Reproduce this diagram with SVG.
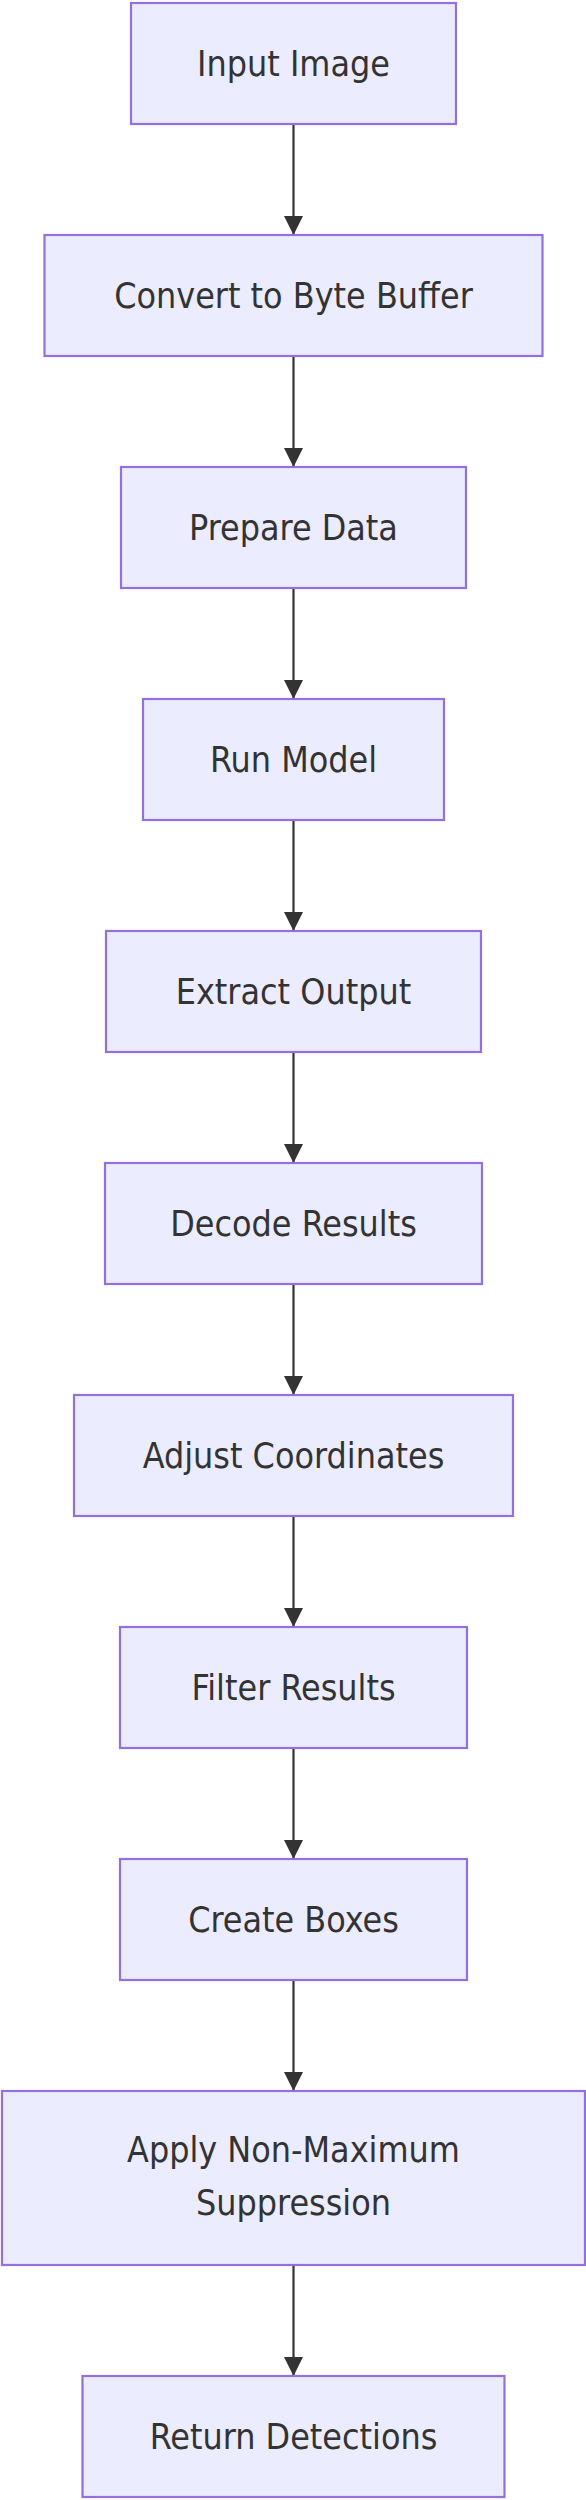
<svg xmlns="http://www.w3.org/2000/svg" width="586" height="2500" viewBox="0 0 586 2500">
<style>
.node rect{fill:#ECECFF;stroke:#9370DB;stroke-width:2.2}
.node text{font-family:"DejaVu Sans Condensed","Liberation Sans",sans-serif;font-size:35.5px;fill:#333333;text-anchor:middle}
.edge{stroke:#333333;stroke-width:2.2;fill:none}
</style>
<defs>
<marker id="arrow" viewBox="0 0 10 10" refX="10" refY="5" markerUnits="userSpaceOnUse" markerWidth="19" markerHeight="19" orient="auto">
<path d="M0,0 L10,5 L0,10 z" fill="#333333"/>
</marker>
</defs>
<rect width="586" height="2500" fill="#ffffff"/>
<g id="connectors">
<line class="edge" x1="293.5" y1="124" x2="293.5" y2="235" marker-end="url(#arrow)"/>
<line class="edge" x1="293.5" y1="356" x2="293.5" y2="467" marker-end="url(#arrow)"/>
<line class="edge" x1="293.5" y1="588" x2="293.5" y2="699" marker-end="url(#arrow)"/>
<line class="edge" x1="293.5" y1="820" x2="293.5" y2="931" marker-end="url(#arrow)"/>
<line class="edge" x1="293.5" y1="1052" x2="293.5" y2="1163" marker-end="url(#arrow)"/>
<line class="edge" x1="293.5" y1="1284" x2="293.5" y2="1395" marker-end="url(#arrow)"/>
<line class="edge" x1="293.5" y1="1516" x2="293.5" y2="1627" marker-end="url(#arrow)"/>
<line class="edge" x1="293.5" y1="1748" x2="293.5" y2="1859" marker-end="url(#arrow)"/>
<line class="edge" x1="293.5" y1="1980" x2="293.5" y2="2091" marker-end="url(#arrow)"/>
<line class="edge" x1="293.5" y1="2265" x2="293.5" y2="2376" marker-end="url(#arrow)"/>
</g>
<g id="input" class="node"><rect x="131" y="3" width="325" height="121"/><text x="293.5" y="76">Input Image</text></g>
<g id="convert" class="node"><rect x="44.5" y="235" width="498" height="121"/><text x="293.5" y="308">Convert to Byte Buffer</text></g>
<g id="prepare" class="node"><rect x="121" y="467" width="345" height="121"/><text x="293.5" y="540">Prepare Data</text></g>
<g id="run" class="node"><rect x="143" y="699" width="301" height="121"/><text x="293.5" y="772">Run Model</text></g>
<g id="extract" class="node"><rect x="106" y="931" width="375" height="121"/><text x="293.5" y="1004">Extract Output</text></g>
<g id="decode" class="node"><rect x="105" y="1163" width="377" height="121"/><text x="293.5" y="1236">Decode Results</text></g>
<g id="adjust" class="node"><rect x="74" y="1395" width="439" height="121"/><text x="293.5" y="1468">Adjust Coordinates</text></g>
<g id="filter" class="node"><rect x="120" y="1627" width="347" height="121"/><text x="293.5" y="1700">Filter Results</text></g>
<g id="create" class="node"><rect x="120" y="1859" width="347" height="121"/><text x="293.5" y="1932">Create Boxes</text></g>
<g id="nms" class="node"><rect x="2" y="2091" width="583" height="174"/><text x="293.5" y="2162">Apply Non-Maximum</text><text x="293.5" y="2215">Suppression</text></g>
<g id="return" class="node"><rect x="82.5" y="2376" width="422" height="121"/><text x="293.5" y="2449">Return Detections</text></g>
</svg>
